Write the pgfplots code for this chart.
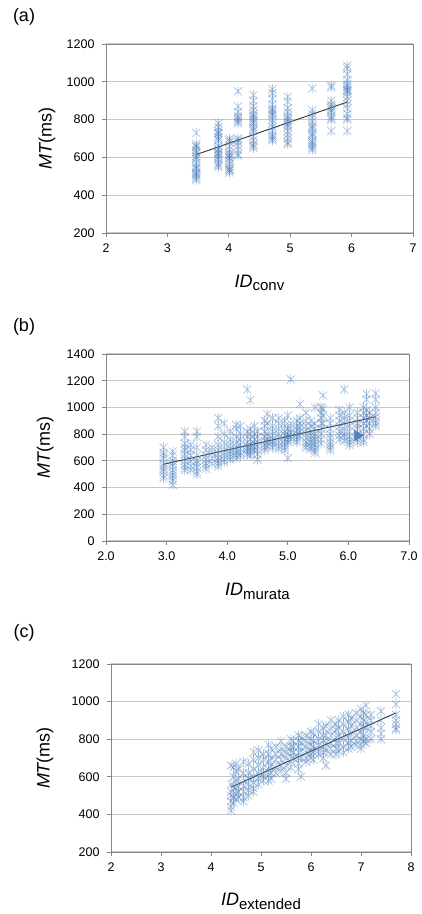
\documentclass[border=0pt]{standalone}
\usepackage{fontspec}
\setmainfont{Liberation Sans}
\usepackage{pgfplots}
\pgfplotsset{compat=1.18}

\definecolor{mk}{RGB}{79,129,189}
\definecolor{gridc}{RGB}{200,200,200}
\definecolor{axc}{RGB}{134,134,134}

% Excel-like star marker: an X with a vertical stroke
\pgfdeclareplotmark{exstar}{%
  \pgfpathmoveto{\pgfqpoint{-0.8\pgfplotmarksize}{-0.8\pgfplotmarksize}}%
  \pgfpathlineto{\pgfqpoint{0.8\pgfplotmarksize}{0.8\pgfplotmarksize}}%
  \pgfpathmoveto{\pgfqpoint{-0.8\pgfplotmarksize}{0.8\pgfplotmarksize}}%
  \pgfpathlineto{\pgfqpoint{0.8\pgfplotmarksize}{-0.8\pgfplotmarksize}}%
  \pgfpathmoveto{\pgfqpoint{0pt}{-\pgfplotmarksize}}%
  \pgfpathlineto{\pgfqpoint{0pt}{\pgfplotmarksize}}%
  \pgfusepathqstroke}

\pgfplotsset{
  exc/.style={
    scale only axis, anchor=north west,
    axis line style={axc, line width=0.9pt},
    tick align=outside, tick pos=left, major tick length=4pt,
    tick style={axc, line width=0.8pt},
    ymajorgrids, grid style={gridc, line width=1.2pt},
    tick label style={font=\fontsize{12.5}{14}\selectfont},
    /pgf/number format/assume math mode=true,
    /pgf/number format/1000 sep={},
    label style={font=\fontsize{18}{20}\selectfont},
    ylabel={{\itshape MT}(ms)},
    xticklabel style={yshift=-3pt},
    yticklabel style={xshift=-4pt},
  },
  pts/.style={only marks, mark=exstar, mark size=5pt,
    mark options={draw=mk, draw opacity=0.45, line width=0.8pt}},
  fit/.style={black!80, line width=0.9pt},
}
\newcommand{\sub}[1]{\raisebox{-0.2em}{\fontsize{15}{16}\selectfont #1}}

\begin{document}
\begin{tikzpicture}
\useasboundingbox (0,0) rectangle (422pt,-914pt);
\node[font=\fontsize{18}{20}\selectfont] at (24pt,-17pt) {(a)};
\node[font=\fontsize{18}{20}\selectfont] at (24pt,-327pt) {(b)};
\node[font=\fontsize{18}{20}\selectfont] at (24pt,-633pt) {(c)};

% ---------------- (a)
\begin{axis}[exc, at={(106pt,-44pt)}, width=307pt, height=189pt,
  xmin=2, xmax=7, ymin=200, ymax=1200, xtick={2,...,7}, ytick={200,400,...,1200},
  xlabel={{\itshape ID}\sub{conv}},
  xlabel style={at={(axis description cs:0.5,-0.286)}, anchor=base},
  ylabel style={at={(axis description cs:-0.192,0.5)}, anchor=center}]
\addplot[pts] coordinates {
 (3.47,730)(3.47,670)(3.47,655)(3.47,640)(3.47,620)(3.47,605)(3.47,590)(3.47,570)(3.47,555)(3.47,540)
 (3.47,525)(3.47,510)(3.47,500)(3.47,490)(3.47,480)(3.47,630)(3.47,600)(3.47,515)(3.47,545)(3.47,660)
 (3.83,780)(3.83,760)(3.83,740)(3.83,725)(3.83,710)(3.83,690)(3.83,660)(3.83,640)(3.83,625)(3.83,610)
 (3.83,600)(3.83,590)(3.83,570)(3.83,560)(3.83,550)(3.83,700)(3.83,645)(3.83,620)(3.83,730)
 (4.01,700)(4.01,680)(4.01,660)(4.01,640)(4.01,625)(4.01,610)(4.01,595)(4.01,580)(4.01,565)(4.01,550)
 (4.01,540)(4.01,530)(4.01,520)(4.01,690)(4.01,615)(4.01,600)(4.01,535)
 (4.15,950)(4.15,870)(4.15,840)(4.15,820)(4.15,800)(4.15,790)(4.15,780)(4.15,700)(4.15,680)(4.15,660)
 (4.15,640)(4.15,620)(4.15,610)(4.15,810)(4.15,690)
 (4.40,930)(4.40,900)(4.40,870)(4.40,850)(4.40,830)(4.40,810)(4.40,800)(4.40,790)(4.40,760)(4.40,750)
 (4.40,740)(4.40,710)(4.40,690)(4.40,670)(4.40,660)(4.40,650)(4.40,780)(4.40,820)
 (4.71,960)(4.71,940)(4.71,910)(4.71,880)(4.71,860)(4.71,840)(4.71,830)(4.71,820)(4.71,800)(4.71,780)
 (4.71,760)(4.71,740)(4.71,720)(4.71,710)(4.71,700)(4.71,690)(4.71,850)
 (4.96,920)(4.96,895)(4.96,860)(4.96,840)(4.96,820)(4.96,800)(4.96,790)(4.96,780)(4.96,770)(4.96,760)
 (4.96,740)(4.96,720)(4.96,700)(4.96,680)(4.96,670)(4.96,810)
 (5.36,965)(5.36,850)(5.36,830)(5.36,810)(5.36,790)(5.36,770)(5.36,750)(5.36,730)(5.36,710)(5.36,690)
 (5.36,680)(5.36,670)(5.36,660)(5.36,650)(5.36,640)(5.36,720)(5.36,760)
 (5.67,980)(5.67,970)(5.67,900)(5.67,880)(5.67,860)(5.67,850)(5.67,840)(5.67,820)(5.67,800)(5.67,740)
 (5.67,870)(5.67,810)
 (5.93,1085)(5.93,1070)(5.93,1040)(5.93,1010)(5.93,990)(5.93,970)(5.93,960)(5.93,950)(5.93,940)(5.93,920)
 (5.93,900)(5.93,880)(5.93,860)(5.93,830)(5.93,810)(5.93,800)(5.93,740)(5.93,980)(5.93,955)
};
\addplot[fit] coordinates {(3.47,615)(5.93,893)};
\end{axis}

% ---------------- (b)
\begin{axis}[exc, at={(106pt,-354pt)}, width=303pt, height=187pt,
  xmin=2, xmax=7, ymin=0, ymax=1400, xtick={2,...,7}, ytick={0,200,...,1400},
  xticklabel style={/pgf/number format/.cd, fixed, fixed zerofill, precision=1},
  xlabel={{\itshape ID}\sub{murata}},
  xlabel style={at={(axis description cs:0.5,-0.294)}, anchor=base},
  ylabel style={at={(axis description cs:-0.201,0.5)}, anchor=center}]
\addplot[pts] coordinates {
 (2.95,700)(2.95,660)(2.95,620)(2.95,580)(2.95,560)(2.95,540)(2.95,520)(2.95,490)(2.95,470)(2.95,640)
 (3.10,670)(3.10,640)(3.10,600)(3.10,560)(3.10,530)(3.10,510)(3.10,490)(3.10,470)(3.10,450)(3.10,420)(3.10,580)
 (3.30,820)(3.30,780)(3.30,730)(3.30,700)(3.30,680)(3.30,650)(3.30,620)(3.30,600)(3.30,570)(3.30,550)(3.30,530)
 (3.40,720)(3.40,680)(3.40,640)(3.40,600)(3.40,560)(3.40,530)
 (3.50,820)(3.50,780)(3.50,700)(3.50,640)(3.50,600)(3.50,580)(3.50,550)(3.50,520)(3.50,500)
 (3.65,720)(3.65,680)(3.65,640)(3.65,610)(3.65,580)(3.65,560)(3.65,540)
 (3.75,700)(3.75,660)(3.75,620)(3.75,580)
 (3.85,920)(3.85,860)(3.85,780)(3.85,720)(3.85,680)(3.85,650)(3.85,620)(3.85,600)(3.85,580)(3.85,560)
 (3.95,880)(3.95,800)(3.95,740)(3.95,700)(3.95,660)(3.95,640)(3.95,610)(3.95,590)
 (4.05,820)(4.05,760)(4.05,720)(4.05,690)(4.05,670)(4.05,650)(4.05,630)(4.05,610)
 (4.15,870)(4.15,840)(4.15,780)(4.15,740)(4.15,700)(4.15,680)(4.15,660)(4.15,640)(4.15,620)
 (4.22,860)(4.22,800)(4.22,760)(4.22,720)(4.22,690)(4.22,660)(4.22,640)
 (4.33,1135)(4.33,820)(4.33,780)(4.33,740)(4.33,710)(4.33,690)(4.33,670)(4.33,650)
 (4.38,1055)(4.38,840)(4.38,800)(4.38,760)(4.38,720)(4.38,700)(4.38,680)(4.38,660)(4.38,640)
 (4.45,860)(4.45,800)(4.45,760)(4.45,730)(4.45,700)(4.45,680)
 (4.50,820)(4.50,780)(4.50,740)(4.50,710)(4.50,680)(4.50,650)(4.50,610)
 (4.62,900)(4.62,860)(4.62,820)(4.62,780)(4.62,750)(4.62,720)(4.62,700)(4.62,680)
 (4.66,950)(4.66,880)(4.66,800)(4.66,760)(4.66,740)(4.66,710)
 (4.75,920)(4.75,860)(4.75,820)(4.75,790)(4.75,760)(4.75,740)(4.75,720)(4.75,700)
 (4.85,920)(4.85,880)(4.85,840)(4.85,800)(4.85,770)(4.85,740)(4.85,710)(4.85,690)
 (4.95,900)(4.95,860)(4.95,820)(4.95,790)(4.95,760)(4.95,740)(4.95,720)(4.95,700)(4.95,680)
 (5.00,940)(5.00,840)(5.00,800)(5.00,780)(5.00,760)(5.00,740)(5.00,620)
 (5.05,1210)(5.05,880)(5.05,840)(5.05,810)(5.05,780)(5.05,760)
 (5.15,900)(5.15,860)(5.15,830)(5.15,800)(5.15,780)(5.15,760)(5.15,740)
 (5.20,1025)(5.20,920)(5.20,880)(5.20,850)(5.20,820)(5.20,790)
 (5.30,960)(5.30,900)(5.30,860)(5.30,830)(5.30,800)(5.30,770)(5.30,740)(5.30,720)(5.30,700)
 (5.38,900)(5.38,860)(5.38,820)(5.38,790)(5.38,760)(5.38,740)(5.38,710)(5.38,690)
 (5.45,1000)(5.45,880)(5.45,840)(5.45,800)(5.45,780)(5.45,760)(5.45,740)(5.45,720)(5.45,700)(5.45,680)(5.45,660)
 (5.55,1000)(5.55,960)(5.55,920)(5.55,880)(5.55,840)(5.55,800)(5.55,760)(5.55,730)
 (5.58,1090)(5.58,990)(5.58,940)(5.58,880)
 (5.70,920)(5.70,880)(5.70,840)(5.70,800)(5.70,770)(5.70,740)(5.70,720)(5.70,700)(5.70,680)
 (5.85,980)(5.85,940)(5.85,900)(5.85,860)(5.85,820)(5.85,790)(5.85,760)
 (5.93,1135)(5.93,960)(5.93,920)(5.93,880)(5.93,840)(5.93,800)(5.93,780)(5.93,750)
 (6.02,1000)(6.02,940)(6.02,900)(6.02,860)(6.02,820)(6.02,780)(6.02,760)(6.02,740)(6.02,720)
 (6.15,960)(6.15,920)(6.15,880)(6.15,860)(6.15,840)(6.15,800)(6.15,780)(6.15,760)(6.15,740)
 (6.25,1000)(6.25,960)(6.25,920)(6.25,880)(6.25,840)(6.25,800)(6.25,760)(6.25,740)
 (6.30,1100)(6.30,1060)(6.30,980)(6.30,940)(6.30,900)(6.30,860)
 (6.35,960)(6.35,920)(6.35,880)(6.35,840)(6.35,800)
 (6.45,1105)(6.45,1060)(6.45,1000)(6.45,960)(6.45,930)(6.45,900)(6.45,880)(6.45,860)
};
\addplot[fit] coordinates {(2.95,575)(6.45,930)};
\addplot[only marks, mark=triangle*, mark size=6pt,
  mark options={rotate=-90, fill=mk, draw=mk}] coordinates {(6.15,790)};
\end{axis}

% ---------------- (c)
\begin{axis}[exc, at={(111pt,-664pt)}, width=300pt, height=188pt,
  xmin=2, xmax=8, ymin=200, ymax=1200, xtick={2,...,8}, ytick={200,400,...,1200},
  xlabel={{\itshape ID}\sub{extended}},
  xlabel style={at={(axis description cs:0.5,-0.284)}, anchor=base},
  ylabel style={at={(axis description cs:-0.22,0.5)}, anchor=center}]
\addplot[pts] coordinates {
 (4.40,660)(4.40,560)(4.40,500)(4.40,470)(4.40,440)(4.40,420)(4.40,520)
 (4.45,650)(4.45,600)(4.45,540)(4.45,490)(4.45,460)
 (4.50,670)(4.50,630)(4.50,580)(4.50,540)(4.50,510)(4.50,480)
 (4.55,640)(4.55,590)(4.55,550)(4.55,520)(4.55,490)
 (4.65,680)(4.65,620)(4.65,580)(4.65,550)(4.65,520)(4.65,490)(4.65,470)
 (4.75,670)(4.75,620)(4.75,590)(4.75,560)(4.75,530)(4.75,500)
 (4.85,730)(4.85,690)(4.85,640)(4.85,600)(4.85,570)(4.85,540)(4.85,520)
 (4.95,740)(4.95,700)(4.95,660)(4.95,620)(4.95,590)(4.95,560)
 (5.05,720)(5.05,690)(5.05,650)(5.05,620)(5.05,600)(5.05,580)
 (5.15,770)(5.15,720)(5.15,680)(5.15,640)(5.15,610)(5.15,580)
 (5.20,750)(5.20,700)(5.20,660)(5.20,620)(5.20,590)
 (5.30,760)(5.30,720)(5.30,690)(5.30,650)(5.30,620)
 (5.40,790)(5.40,750)(5.40,720)(5.40,690)(5.40,660)(5.40,630)
 (5.50,760)(5.50,730)(5.50,700)(5.50,660)(5.50,620)(5.50,590)
 (5.60,800)(5.60,760)(5.60,740)(5.60,710)(5.60,680)(5.60,650)
 (5.65,790)(5.65,760)(5.65,730)(5.65,700)
 (5.75,820)(5.75,790)(5.75,760)(5.75,730)(5.75,700)(5.75,670)(5.75,640)
 (5.80,810)(5.80,780)(5.80,740)(5.80,700)(5.80,600)
 (5.90,820)(5.90,790)(5.90,760)(5.90,730)(5.90,700)(5.90,680)
 (6.00,840)(6.00,800)(6.00,770)(6.00,740)(6.00,720)(6.00,700)
 (6.05,830)(6.05,790)(6.05,760)(6.05,730)(6.05,690)
 (6.15,880)(6.15,840)(6.15,800)(6.15,770)(6.15,740)(6.15,720)
 (6.25,860)(6.25,820)(6.25,790)(6.25,760)(6.25,730)(6.25,700)
 (6.30,870)(6.30,820)(6.30,780)(6.30,740)(6.30,660)
 (6.40,900)(6.40,860)(6.40,820)(6.40,780)(6.40,750)(6.40,720)
 (6.50,880)(6.50,850)(6.50,810)(6.50,780)(6.50,750)(6.50,720)
 (6.55,900)(6.55,860)(6.55,820)(6.55,780)(6.55,740)
 (6.65,920)(6.65,880)(6.65,840)(6.65,800)(6.65,760)(6.65,730)
 (6.75,930)(6.75,890)(6.75,850)(6.75,810)(6.75,780)(6.75,750)
 (6.80,910)(6.80,870)(6.80,830)(6.80,790)(6.80,760)
 (6.90,940)(6.90,900)(6.90,860)(6.90,820)(6.90,790)(6.90,770)
 (7.00,960)(7.00,920)(7.00,880)(7.00,840)(7.00,800)(7.00,770)(7.00,750)
 (7.05,940)(7.05,900)(7.05,860)(7.05,820)(7.05,790)
 (7.10,980)(7.10,930)(7.10,890)(7.10,860)(7.10,800)(7.10,780)
 (7.20,930)(7.20,900)(7.20,870)(7.20,840)(7.20,800)
 (7.40,950)(7.40,900)(7.40,860)(7.40,830)(7.40,800)
 (7.70,1040)(7.70,985)(7.70,930)(7.70,900)(7.70,880)(7.70,860)(7.70,850)
};
\addplot[fit] coordinates {(4.4,545)(7.7,940)};
\end{axis}
\end{tikzpicture}
\end{document}
